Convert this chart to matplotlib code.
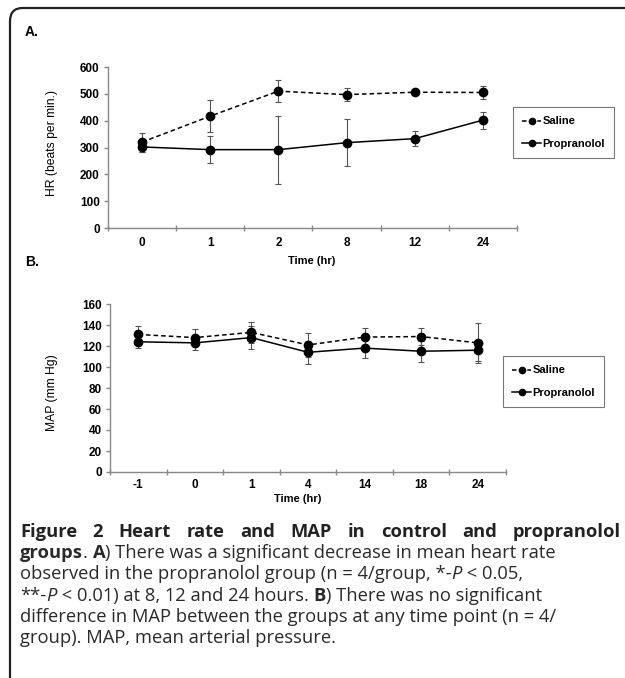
import matplotlib
matplotlib.use("Agg")
import matplotlib.pyplot as plt
from matplotlib.patches import FancyBboxPatch
from matplotlib.lines import Line2D
import numpy as np

# panel A: heart rate
hr_times = ["0", "1", "2", "8", "12", "24"]
hr_saline = [320, 417, 510, 497, 506, 505]
hr_saline_err = [35, 60, 42, 24, 8, 26]
hr_prop = [302, 292, 292, 318, 333, 402]
hr_prop_err = [20, 50, 127, 87, 28, 32]

# panel B: MAP
map_times = ["-1", "0", "1", "4", "14", "18", "24"]
map_saline = [131, 128, 133, 121, 128.5, 129, 123]
map_saline_err = [8.5, 8, 10, 11, 9, 8, 19]
map_prop = [124, 123, 128, 114, 118, 115, 116]
map_prop_err = [6, 7, 11, 11, 9, 10, 10]

W, H = 625, 678
fig = plt.figure(figsize=(W / 100, H / 100), dpi=100)
plt.rcParams['font.family'] = ['Liberation Sans', 'DejaVu Sans']


def fx(px):
    return px / W


def fy(py):
    return 1 - py / H


# rounded frame, cut by the right and bottom edges
frame = FancyBboxPatch((fx(10), fy(730)), fx(700), 722 / H,
                       boxstyle="round,pad=0,rounding_size=0.02",
                       transform=fig.transFigure, fill=False,
                       ec="#222222", lw=1.6, clip_on=False)
fig.patches.append(frame)


def panel(rect, labels, sal, sal_e, prop, prop_e, ymax, ystep, leg_pos, xpad):
    ax = fig.add_axes(rect)
    x = np.arange(len(labels))
    for y, e in [(sal, sal_e), (prop, prop_e)]:
        ax.errorbar(x, y, yerr=e, fmt='none', ecolor='#555555',
                    elinewidth=0.8, capsize=2.5, capthick=0.8)
    ax.plot(x, sal, 'o--', color='black', ms=6, lw=1.1, dashes=(3, 2))
    ax.plot(x, prop, 'o-', color='black', ms=6, lw=1.1)
    ax.set_xlim(-0.5, len(labels) - 0.5)
    ax.set_ylim(0, ymax)
    ax.set_yticks(np.arange(0, ymax + 1, ystep))
    ax.set_xticks(np.arange(-0.5, len(labels)))
    ax.set_xticklabels([])
    ax.set_xticks(x, minor=True)
    ax.set_xticklabels(labels, minor=True)
    ax.tick_params(axis='x', which='major', length=4, direction='inout',
                   color='#888888', width=1)
    ax.tick_params(axis='x', which='minor', length=0, pad=xpad, labelsize=8.5)
    ax.tick_params(axis='y', length=3, direction='out', color='#888888',
                   width=1, labelsize=8.5, pad=3)
    for t in ax.get_xticklabels(minor=True) + ax.get_yticklabels():
        t.set_fontweight('bold')
    for s in ['top', 'right']:
        ax.spines[s].set_visible(False)
    for s in ['left', 'bottom']:
        ax.spines[s].set_color('#888888')
        ax.spines[s].set_linewidth(1)
    handles = [Line2D([], [], color='black', ls='--', dashes=(3, 2), lw=1.1,
                      marker='o', ms=4.5),
               Line2D([], [], color='black', ls='-', lw=1.1, marker='o', ms=4.5)]
    leg = ax.legend(handles, ['Saline', 'Propranolol'], loc='upper left',
                    bbox_to_anchor=leg_pos, bbox_transform=fig.transFigure,
                    frameon=True, fancybox=False, edgecolor='#555555',
                    handlelength=1.7, handletextpad=0.1, labelspacing=1.1,
                    borderpad=0.85, borderaxespad=0,
                    prop={'weight': 'bold', 'size': 8})
    leg.get_frame().set_linewidth(0.8)
    return ax


axA = panel([fx(108), fy(228), fx(517 - 108), (228 - 67) / H], hr_times,
            hr_saline, hr_saline_err, hr_prop, hr_prop_err, 600, 100,
            (fx(513), fy(107)), 6.5)
axB = panel([fx(110), fy(472), fx(506 - 110), (472 - 304) / H], map_times,
            map_saline, map_saline_err, map_prop, map_prop_err, 160, 20,
            (fx(503), fy(356)), 5)

fig.text(fx(52), fy(143), "HR (beats per min.)", rotation=90, ha='center',
         va='center', fontsize=8.7)
fig.text(fx(52), fy(393), "MAP (mm Hg)", rotation=90, ha='center',
         va='center', fontsize=8.7)
fig.text(fx(312), fy(261), "Time (hr)", ha='center', va='center',
         fontsize=8, fontweight='bold')
fig.text(fx(298), fy(499), "Time (hr)", ha='center', va='center',
         fontsize=8, fontweight='bold')
fig.text(fx(25), fy(32), "A.", ha='left', va='center', fontsize=10,
         fontweight='bold')
fig.text(fx(25), fy(262), "B.", ha='left', va='center', fontsize=10,
         fontweight='bold')

# caption
cap_font = ['Open Sans', 'DejaVu Sans']
renderer = fig.canvas.get_renderer()


def width(txt, size, weight='normal', style='normal'):
    t = fig.text(0, 0, txt, fontsize=size, fontweight=weight, fontstyle=style,
                 family=cap_font)
    w = t.get_window_extent(renderer).width
    t.remove()
    return w


N, B, I = 'normal', 'bold', 'italic'
lines = [
    [("groups", B, N), (". ", N, N), ("A", B, N),
     (") There was a significant decrease in mean heart rate", N, N)],
    [("observed in the propranolol group (n = 4/group, *-", N, N), ("P", N, I),
     (" < 0.05,", N, N)],
    [("**-", N, N), ("P", N, I), (" < 0.01) at 8, 12 and 24 hours. ", N, N),
     ("B", B, N), (") There was no significant", N, N)],
    [("difference in MAP between the groups at any time point (n = 4/", N, N)],
    [("group). MAP, mean arterial pressure.", N, N)],
]

# size the caption so the second line spans like the original
w10 = sum(width(t, 10, wt, st) for t, wt, st in lines[0])
size = 10 * 536 / w10


def run(x, y, pieces):
    for txt, weight, style in pieces:
        fig.text(fx(x), fy(y), txt, ha='left', va='baseline', fontsize=size,
                 fontweight=weight, fontstyle=style, family=cap_font,
                 color='#2a2a2a')
        x += width(txt, size, weight, style)


# first line is justified
words = "Figure 2 Heart rate and MAP in control and propranolol".split()
tw = [width(w, size, 'bold') for w in words]
gap = (621 - 20 - sum(tw)) / (len(words) - 1)
xx = 20
for w, wd in zip(words, tw):
    fig.text(fx(xx), fy(537), w, ha='left', va='baseline', fontsize=size,
             fontweight='bold', family=cap_font, color='#222222')
    xx += wd + gap

for i, ln in enumerate(lines):
    run(20, 558 + i * 21.3, ln)

fig.savefig("out.png", dpi=100)
